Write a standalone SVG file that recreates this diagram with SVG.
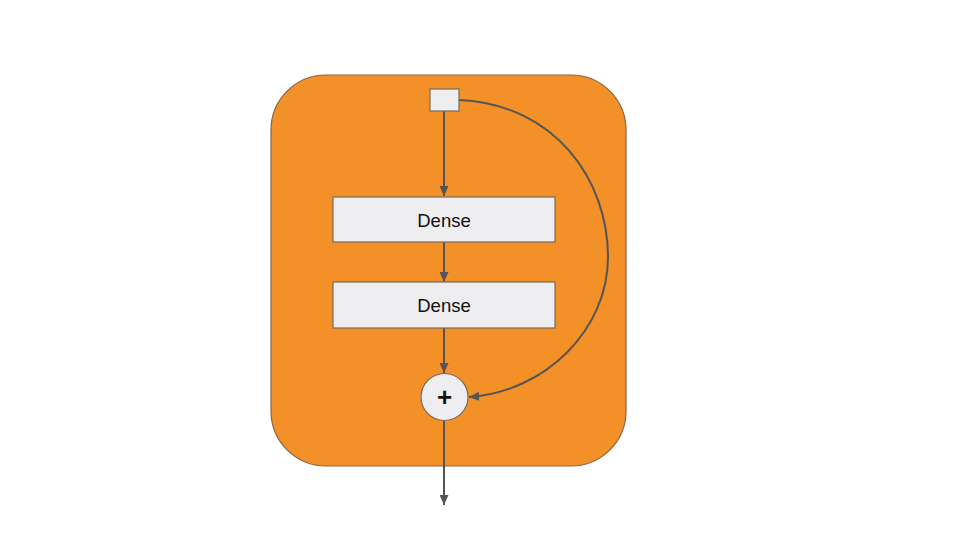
<svg xmlns="http://www.w3.org/2000/svg" width="960" height="540" viewBox="0 0 960 540">
<style>
.box{fill:#eeeef0;stroke:#7a6a5a;stroke-width:1.2}
.lbl{font-family:"Liberation Sans",Arial,sans-serif;font-size:18.5px;fill:#111;text-anchor:middle;dominant-baseline:central}
.edge{fill:none;stroke:#555555;stroke-width:2}
</style>
<defs>
<marker id="arr" viewBox="0 0 10 9" refX="10" refY="4.5" markerWidth="10" markerHeight="9" orient="auto" markerUnits="userSpaceOnUse">
<path d="M0,0 L10,4.5 L0,9 Z" fill="#555555"/>
</marker>
</defs>
<rect width="960" height="540" fill="#ffffff"/>
<g id="block">
<rect x="271" y="75" width="355" height="391" rx="55" ry="55" fill="#f39028" stroke="#8a6440" stroke-width="1.2"/>
</g>
<g id="connectors">
<line class="edge" x1="444" y1="111" x2="444" y2="196" marker-end="url(#arr)"/>
<line class="edge" x1="444" y1="242" x2="444" y2="282" marker-end="url(#arr)"/>
<line class="edge" x1="444" y1="328" x2="444" y2="373" marker-end="url(#arr)"/>
<line class="edge" x1="444" y1="421" x2="444" y2="505" marker-end="url(#arr)"/>
<path class="edge" d="M459,100 C555,104 608,180 608,257 C608,330 545,392 469,397" marker-end="url(#arr)"/>
</g>
<g id="input">
<rect class="box" x="430" y="89" width="29" height="22"/>
</g>
<g id="dense1">
<rect class="box" x="333" y="197" width="222" height="45"/>
<text class="lbl" x="444" y="220">Dense</text>
</g>
<g id="dense2">
<rect class="box" x="333" y="282" width="222" height="46"/>
<text class="lbl" x="444" y="305">Dense</text>
</g>
<g id="add">
<circle class="box" cx="444.5" cy="397" r="23.5"/>
<text class="lbl" x="444.5" y="397" style="font-size:26px;font-weight:bold">+</text>
</g>
</svg>
